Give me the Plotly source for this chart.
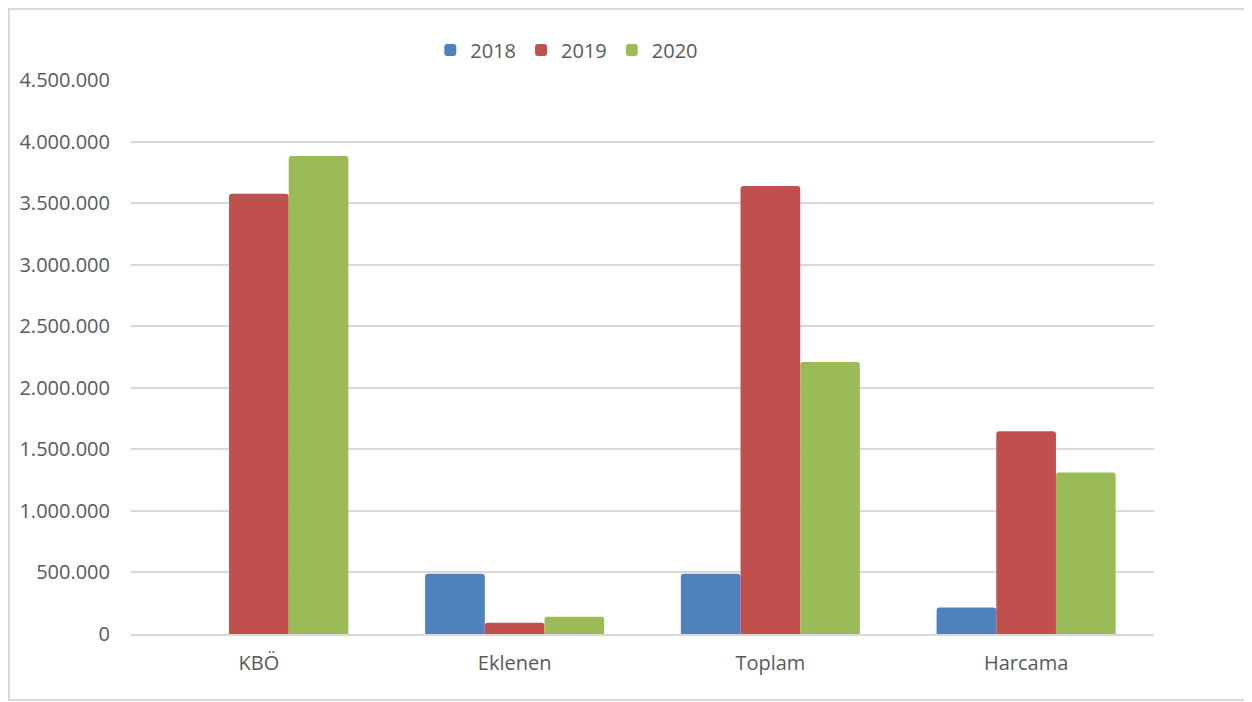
import plotly.graph_objects as go

categories = ["KBÖ", "Eklenen", "Toplam", "Harcama"]
years = ["2018", "2019", "2020"]
values_2018 = [0, 489000, 489000, 215000]
values_2019 = [3576000, 91000, 3640000, 1646000]
values_2020 = [3882000, 140000, 2210000, 1311000]
colors = ["#4F81BD", "#C0504D", "#9BBB59"]

text_color = "#595959"
grid_color = "#D9D9D9"

fig = go.Figure()
for name, vals, col in zip(years, [values_2018, values_2019, values_2020], colors):
    fig.add_trace(go.Bar(x=categories, y=vals, name=name,
                         marker=dict(color=col, line=dict(width=0), cornerradius=3)))

# page has an 8px body margin, so the figure is a bit smaller than the window
fig.update_layout(
    width=1244, height=694,
    margin=dict(l=123, r=98, t=72, b=68),
    paper_bgcolor="white", plot_bgcolor="white",
    barmode="group", bargap=0.30, bargroupgap=0,
    separators=",.",
    font=dict(family="Open Sans", size=20, color=text_color),
    showlegend=True,
    legend=dict(orientation="h", x=0.426, xanchor="center", y=1.054, yanchor="middle",
                font=dict(size=20, color=text_color), itemwidth=30,
                traceorder="normal", bgcolor="rgba(0,0,0,0)"),
    shapes=[dict(type="rect", xref="paper", yref="paper",
                 x0=-0.1193, x1=1.0919, y0=-0.1191, y1=1.1282,
                 line=dict(color=grid_color, width=2), layer="below")],
)
fig.update_yaxes(range=[0, 4500000], dtick=500000, tickformat=",d",
                 showgrid=True, gridcolor=grid_color, gridwidth=1.5,
                 zeroline=False, showline=False, ticks="", ticklabelstandoff=20,
                 tickfont=dict(size=20, color=text_color))
fig.update_xaxes(showline=True, linecolor=grid_color, linewidth=1.5, ticks="",
                 ticklabelstandoff=10, tickfont=dict(size=20, color=text_color))

fig.write_html("out.html")
